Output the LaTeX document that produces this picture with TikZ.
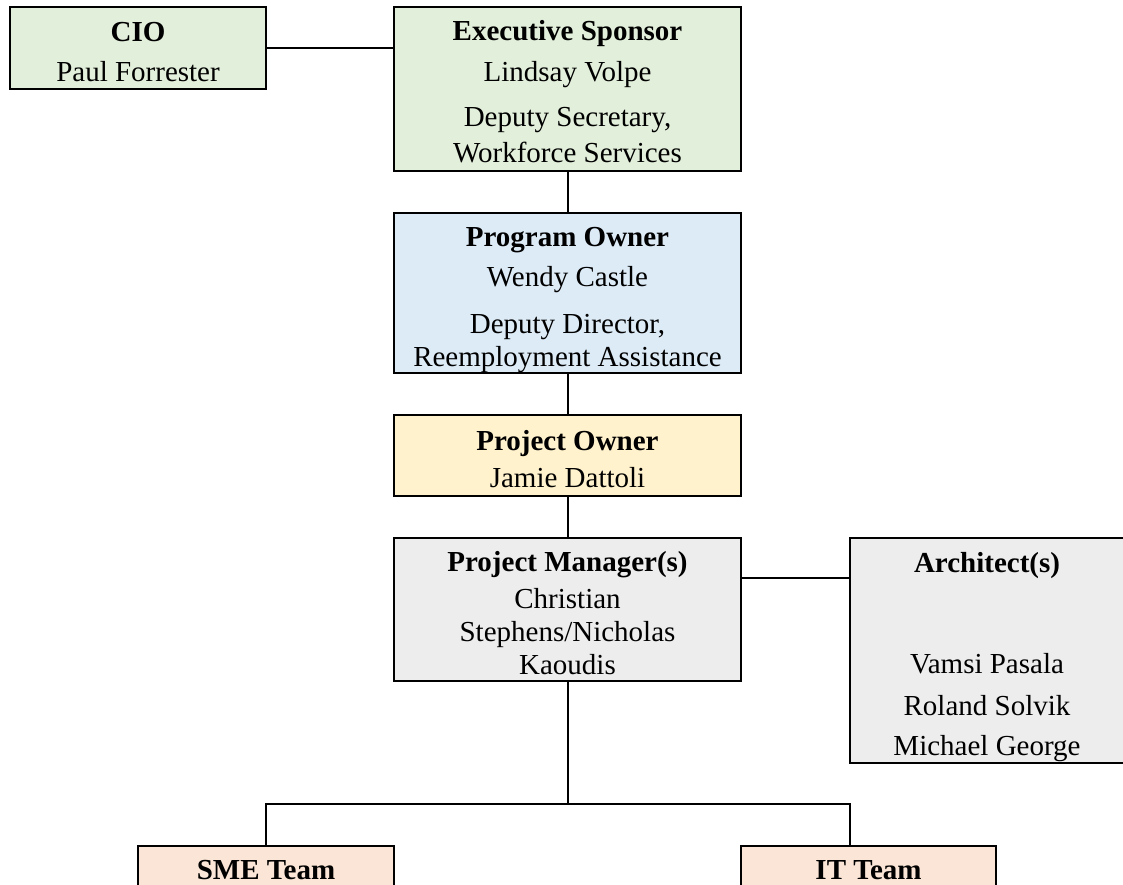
\documentclass[tikz,border=0pt]{standalone}
\usepackage{fontspec}
\setmainfont{Liberation Serif}
\usetikzlibrary{calc}
\definecolor{boxgreen}{HTML}{E2EFDA}
\definecolor{boxblue}{HTML}{DDEBF7}
\definecolor{boxyellow}{HTML}{FFF2CC}
\definecolor{boxgray}{HTML}{EDEDED}
\definecolor{boxpeach}{HTML}{FBE5D6}
\begin{document}
\begin{tikzpicture}[x=1pt,y=-1pt,
  orgbox/.style={draw=black,line width=2pt,rectangle,inner sep=0pt,outer sep=0pt},
  txt/.style={anchor=base,inner sep=0pt,font=\fontsize{29}{33}\selectfont},
  ttl/.style={txt,font=\fontsize{29}{33}\selectfont\bfseries},
  conn/.style={draw=black,line width=2pt}]
\useasboundingbox (0,0) rectangle (1123,885);
\begin{scope}
\clip (0,0) rectangle (1123,885);
% junction points of the connectors
\coordinate (pmside) at (741,578);
\coordinate (split) at (567.5,804);
\coordinate (smedrop) at (266,804);
\coordinate (itdrop) at (850,804);
% boxes
\node[orgbox,fill=boxgreen,minimum width=256pt,minimum height=82pt] (cio) at (138,48) {};
\node[orgbox,fill=boxgreen,minimum width=347pt,minimum height=164pt] (exec) at (567.5,89) {};
\node[orgbox,fill=boxblue,minimum width=347pt,minimum height=160pt] (prog) at (567.5,293) {};
\node[orgbox,fill=boxyellow,minimum width=347pt,minimum height=81pt] (powner) at (567.5,455.5) {};
\node[orgbox,fill=boxgray,minimum width=347pt,minimum height=143pt] (pm) at (567.5,609.5) {};
\node[orgbox,fill=boxgray,minimum width=274pt,minimum height=225pt] (arch) at (987,650.5) {};
\node[orgbox,fill=boxpeach,minimum width=256pt,minimum height=64pt] (sme) at (266,878) {};
\node[orgbox,fill=boxpeach,minimum width=255pt,minimum height=64pt] (it) at (868.5,878) {};
% connectors
\draw[conn] (cio.east) -- (cio.east -| exec.west);
\draw[conn] (exec.south) -- (prog.north);
\draw[conn] (prog.south) -- (powner.north);
\draw[conn] (powner.south) -- (pm.north);
\draw[conn] (pmside) -- (pmside -| arch.west);
\draw[conn] (pm.south) -- (split);
\draw[conn] (smedrop |- sme.north) -- (smedrop) -- (itdrop) -- (itdrop |- it.north);
% labels
\node[ttl] (cio-1) at (138,42) {CIO};
\node[txt] (cio-2) at (138,82) {Paul Forrester};
\node[ttl] (exec-1) at (567.5,41) {Executive Sponsor};
\node[txt] (exec-2) at (567.5,82) {Lindsay Volpe};
\node[txt] (exec-3) at (567.5,127) {Deputy Secretary,};
\node[txt] (exec-4) at (567.5,163) {Workforce Services};
\node[ttl] (prog-1) at (567.5,247) {Program Owner};
\node[txt] (prog-2) at (567.5,286) {Wendy Castle};
\node[txt] (prog-3) at (567.5,333) {Deputy Director,};
\node[txt] (prog-4) at (567.5,366) {Reemployment Assistance};
\node[ttl] (powner-1) at (567.5,450) {Project Owner};
\node[txt] (powner-2) at (567.5,487) {Jamie Dattoli};
\node[ttl] (pm-1) at (567.5,571) {Project Manager(s)};
\node[txt] (pm-2) at (567.5,608) {Christian};
\node[txt] (pm-3) at (567.5,641) {Stephens/Nicholas};
\node[txt] (pm-4) at (567.5,674) {Kaoudis};
\node[ttl] (arch-1) at (987,572) {Architect(s)};
\node[txt] (arch-2) at (987,673) {Vamsi Pasala};
\node[txt] (arch-3) at (987,715) {Roland Solvik};
\node[txt] (arch-4) at (987,755) {Michael George};
\node[ttl] (sme-1) at (266,879) {SME Team};
\node[ttl] (it-1) at (868.5,879) {IT Team};
\end{scope}
\end{tikzpicture}
\end{document}
